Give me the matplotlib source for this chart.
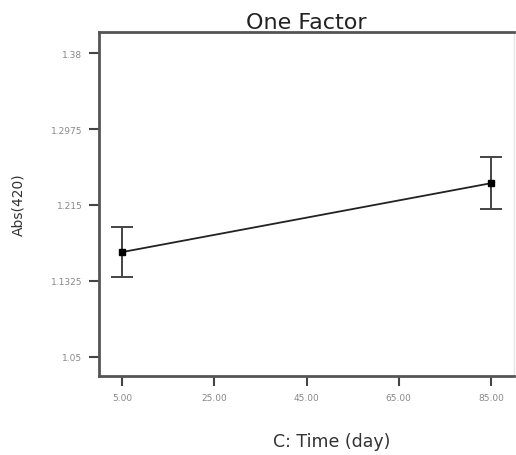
import numpy as np
import matplotlib
matplotlib.use('Agg')
from matplotlib import pyplot as plt

# data
time_day = [5.0, 85.0]
abs420 = [1.1637, 1.2386]
abs420_err = [0.0275, 0.028]

xticks = [5.0, 25.0, 45.0, 65.0, 85.0]
yticks = [1.05, 1.1325, 1.215, 1.2975, 1.38]
xtick_labels = ['5.00', '25.00', '45.00', '65.00', '85.00']
ytick_labels = ['1.05', '1.1325', '1.215', '1.2975', '1.38']

fig = plt.figure(figsize=(5.16, 4.56), dpi=100)
ax = fig.add_axes([99/516, 1-377/456, (514-99)/516, (377-33)/456])

ax.errorbar(time_day, abs420, yerr=abs420_err, color='#222222', ecolor='#444444',
            elinewidth=1.4, capsize=8, capthick=1.4, lw=1.3,
            marker='s', ms=5, mfc='black', mec='black')

ax.set_xlim(0, 90)
ax.set_ylim(1.029, 1.403)
ax.set_xticks(xticks)
ax.set_xticklabels(xtick_labels)
ax.set_yticks(yticks)
ax.set_yticklabels(ytick_labels)
ax.tick_params(axis='both', direction='out', length=7, width=1.5, color='#444444',
               labelsize=6.5, labelcolor='#888888', pad=5)

for side in ['left', 'top', 'bottom']:
    ax.spines[side].set_linewidth(2)
    ax.spines[side].set_color('#555555')
ax.spines['right'].set_linewidth(1)
ax.spines['right'].set_color('#e6e6e6')

ax.set_title('One Factor', fontsize=16, color='#222222', pad=3)
fig.text(18/516, 1-205/456, 'Abs(420)', fontsize=10, color='#333333',
         rotation=90, ha='center', va='center')
fig.text(332/516, 1-442/456, 'C: Time (day)', fontsize=12.5, color='#333333',
         ha='center', va='center')

fig.savefig('out.png', dpi=100)
